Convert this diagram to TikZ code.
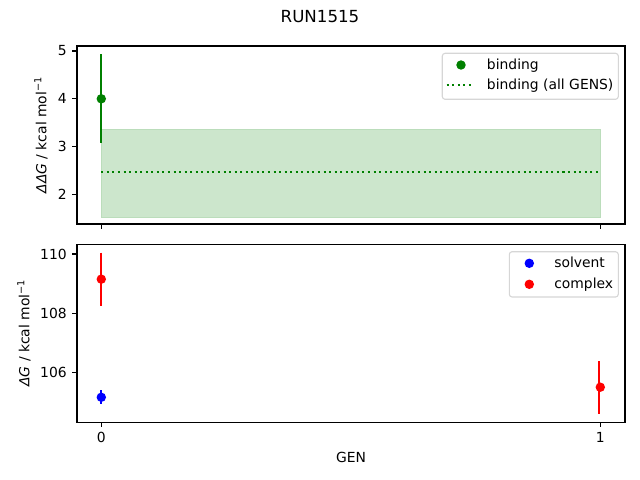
\documentclass[tikz,border=0pt]{standalone}
\usepackage{fontspec}
\setmainfont{DejaVu Sans}
\usetikzlibrary{positioning}
\definecolor{mplgreen}{HTML}{008000}
\definecolor{mplblue}{HTML}{0000FF}
\definecolor{mplred}{HTML}{FF0000}
\definecolor{bandgreen}{HTML}{CCE6CC}
\definecolor{bandedge}{HTML}{BBDDBB}
\definecolor{legendedge}{HTML}{D6D6D6}
\begin{document}
\begin{tikzpicture}[x=0.72pt,y=-0.72pt,
    frame/.style={line width=0.8pt},
    tickmark/.style={line width=0.8pt},
    dot/.style={circle,inner sep=0pt,minimum size=6.8pt},
    errbar/.style={line width=1.5pt},
    legendbox/.style={draw=legendedge,fill=white,rounded corners=2pt,line width=0.8pt}]
  \useasboundingbox (0,0) rectangle (640,480);
  \node (title) at (320,17) {\fontsize{12}{14}\selectfont RUN1515};
  % top axes: binding (origin at GEN 0, value 2)
  \begin{scope}[shift={(101.3,194.4)},xscale=499,yscale=-47.8]
    \fill[bandgreen,draw=bandedge] (0,-0.47) rectangle (1,1.37);
    \coordinate (avgL) at (0,0.47);
    \coordinate (avgR) at (1,0.47);
    \draw[mplgreen,line width=1.5pt,dash pattern=on 1.5pt off 2.5pt] (avgL) -- (avgR);
    \coordinate (bindhi) at (0,2.94);
    \coordinate (bindlo) at (0,1.07);
    \draw[errbar,mplgreen] (bindhi) -- (bindlo);
    \node[dot,fill=mplgreen] (bind0) at (0,2.0) {};
  \end{scope}
  \draw[frame] (77,46) rectangle (625,224);
  \foreach \v in {2,3,4,5}
    \draw[tickmark] (77,{290-47.8*\v}) -- ++(-4.9,0) node[left,inner sep=0pt,xshift=-3.5pt] {\v};
  \foreach \x in {101.3,600.3}
    \draw[tickmark] (\x,224) -- ++(0,4.9);
  \node[rotate=90] (toplabel) at (41,135) {\textit{ΔΔG} / kcal mol\textsuperscript{−1}};
  % top legend
  \draw[legendbox] (442.3,53.3) rectangle (618.3,99.3);
  \node[dot,fill=mplgreen] (keybind) at (461,65) {};
  \node[anchor=base west,inner sep=0pt] (txtbind) at (486.7,69.5) {binding};
  \coordinate (keyavgL) at (446.7,85);
  \coordinate (keyavgR) at (474,85);
  \draw[mplgreen,line width=1.5pt,dash pattern=on 1.5pt off 2.5pt] (keyavgL) -- (keyavgR);
  \node[anchor=base west,inner sep=0pt] (txtavg) at (486.7,89.5) {binding (all GENS)};
  % bottom axes: solvent and complex (origin at GEN 0, value 106)
  \begin{scope}[shift={(101.3,372.4)},xscale=499,yscale=-29.6]
    \coordinate (solvhi) at (0,-0.60);
    \coordinate (solvlo) at (0,-1.06);
    \draw[errbar,mplblue] (solvhi) -- (solvlo);
    \node[dot,fill=mplblue] (solv0) at (0,-0.84) {};
    \coordinate (comphiA) at (0,4.06);
    \coordinate (comploA) at (0,2.25);
    \draw[errbar,mplred] (comphiA) -- (comploA);
    \node[dot,fill=mplred] (comp0) at (0,3.15) {};
    \coordinate (comphiB) at (1,0.38);
    \coordinate (comploB) at (1,-1.40);
    \draw[errbar,mplred] (comphiB) -- (comploB);
    \node[dot,fill=mplred] (comp1) at (1,-0.50) {};
  \end{scope}
  \draw[frame] (77,244.3) rectangle (625,422.3);
  \foreach \v/\p in {106/372.4,108/313.2,110/254}
    \draw[tickmark] (77,\p) -- ++(-4.9,0) node[left,inner sep=0pt,xshift=-3.5pt] {\v};
  \foreach \x/\g in {101.3/0,600.3/1}
    \draw[tickmark] (\x,422.3) -- ++(0,4.9) node[below,inner sep=0pt,yshift=-3.5pt] {\g};
  \node[rotate=90] (botlabel) at (24,333) {\textit{ΔG} / kcal mol\textsuperscript{−1}};
  \node (genlabel) at (351,457) {GEN};
  % bottom legend
  \draw[legendbox] (509.3,251.7) rectangle (618.3,297);
  \node[dot,fill=mplblue] (keysolv) at (529.3,263.3) {};
  \node[anchor=base west,inner sep=0pt] (txtsolv) at (554,267) {solvent};
  \node[dot,fill=mplred] (keycomp) at (529.3,284.3) {};
  \node[anchor=base west,inner sep=0pt] (txtcomp) at (554,288) {complex};
\end{tikzpicture}
\end{document}
